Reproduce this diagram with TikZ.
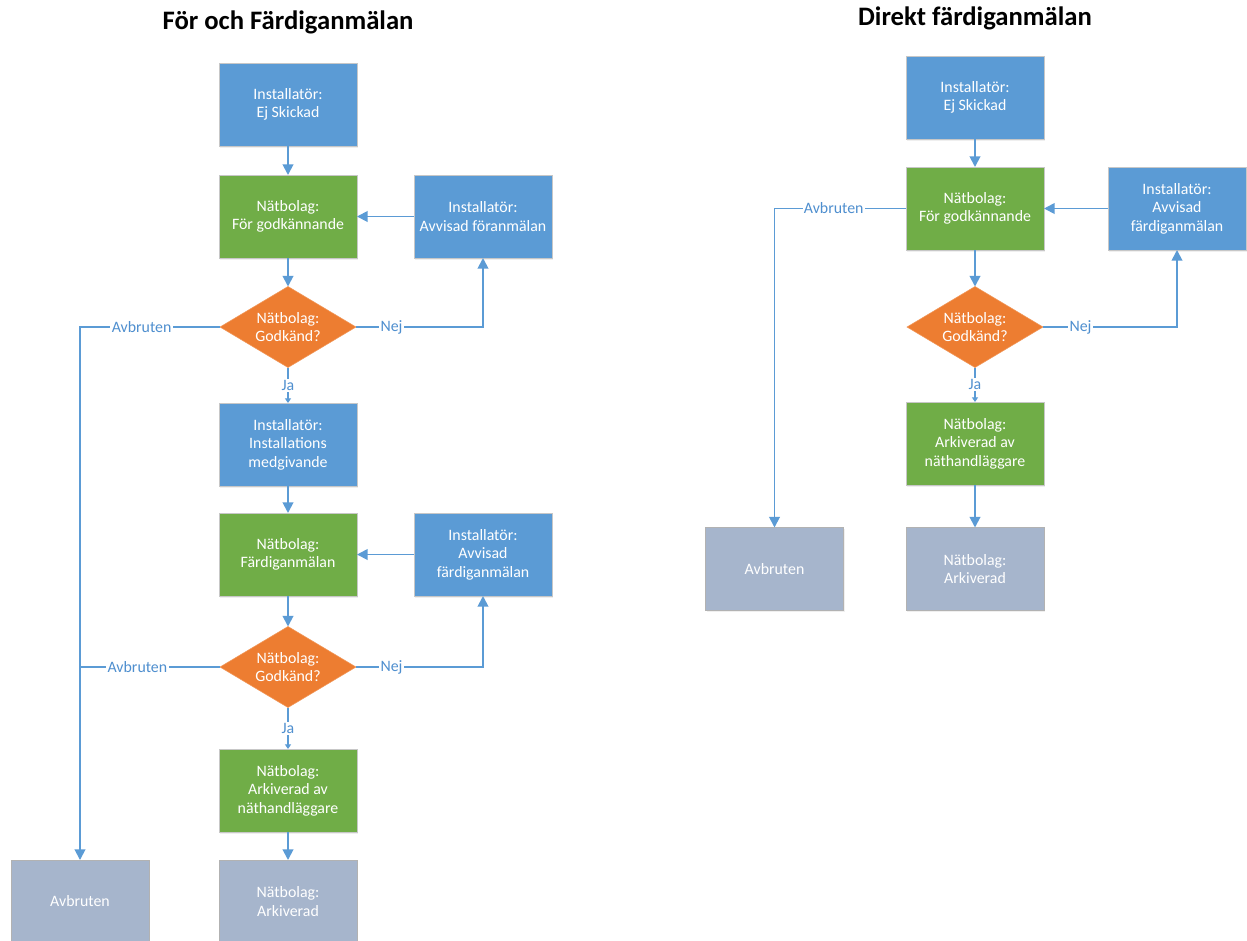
\documentclass[tikz,border=0pt]{standalone}
\usepackage{fontspec}
\setmainfont{Carlito}
\usetikzlibrary{shapes.geometric,arrows.meta,shadows}
\definecolor{cblue}{HTML}{5B9BD5}
\definecolor{cgreen}{HTML}{70AD47}
\definecolor{corange}{HTML}{ED7D31}
\definecolor{cgray}{HTML}{A6B5CC}
\definecolor{cline}{HTML}{5B9BD5}
\definecolor{clabel}{HTML}{4F8FCF}
\tikzset{
  box/.style={rectangle, draw=black!22, line width=0.6pt, minimum width=103.5pt, minimum height=62.25pt,
    inner sep=0pt, outer sep=0pt, align=center, text=white,
    font=\fontsize{11.9}{13.9}\selectfont,
    drop shadow={shadow xshift=0.8pt, shadow yshift=-1.2pt, opacity=0.12}},
  bluebox/.style={box, fill=cblue},
  greenbox/.style={box, fill=cgreen},
  graybox/.style={box, fill=cgray, draw=black!30},
  decision/.style={diamond, fill=corange, draw=corange!80!white, line width=0.4pt,
    minimum width=102pt, minimum height=60.75pt, aspect=1.68, inner sep=0pt, outer sep=0pt,
    align=center, text=white, font=\fontsize{11.9}{13.9}\selectfont},
  line/.style={draw=cline, line width=1.4pt},
  conn/.style={line, -{Triangle[width=8pt,length=8pt]}},
  smallconn/.style={line, -{Triangle[width=4.5pt,length=3.5pt]}},
  lbl/.style={fill=white, inner sep=1pt, text=clabel, font=\fontsize{11.9}{13.9}\selectfont},
  title/.style={font=\fontsize{20}{24}\selectfont\bfseries, text=black},
}
\begin{document}
\begin{tikzpicture}[x=0.75pt, y=-0.75pt]
\useasboundingbox (0,0) rectangle (1247,940);
\fill[white] (0,0) rectangle (1247,940);

% ---------- Left diagram ----------
\node[title] (lt) at (288,22) {För och Färdiganmälan};
\node[bluebox] (L1) at (288,104.5) {Installatör:\\Ej Skickad};
\node[greenbox] (L2) at (288,216.5) {Nätbolag:\\För godkännande};
\node[bluebox] (L3) at (483,216.5) {Installatör:\\Avvisad föranmälan};
\node[decision] (LD1) at (288,327) {Nätbolag:\\Godkänd?};
\node[bluebox] (L4) at (288,444.5) {Installatör:\\Installations\\medgivande};
\node[greenbox] (L5) at (288,554.5) {Nätbolag:\\Färdiganmälan};
\node[bluebox] (L6) at (483,554.5) {Installatör:\\Avvisad\\färdiganmälan};
\node[decision] (LD2) at (288,667) {Nätbolag:\\Godkänd?};
\node[greenbox] (L7) at (288,790.5) {Nätbolag:\\Arkiverad av\\näthandläggare};
\node[graybox] (L8) at (288,901.5) {Nätbolag:\\Arkiverad};
\node[graybox] (LAv) at (80,901.5) {Avbruten};

\draw[conn] (L1) -- (L2);
\draw[conn] (L3) -- (L2);
\draw[conn] (L2) -- (LD1);
\draw[conn] (LD1.east) -- node[lbl, pos=0.28] {Nej} (LD1.east -| L3) -- (L3);
\draw[smallconn] (LD1) -- node[lbl, pos=0.5] {Ja} (L4);
\draw[conn] (LD1.west) -- node[lbl, pos=0.56] {Avbruten} (LD1.west -| LAv) -- (LAv);
\draw[conn] (L4) -- (L5);
\draw[conn] (L6) -- (L5);
\draw[conn] (L5) -- (LD2);
\draw[conn] (LD2.east) -- node[lbl, pos=0.28] {Nej} (LD2.east -| L6) -- (L6);
\draw[line] (LD2.west) -- node[lbl, pos=0.59] {Avbruten} (LD2.west -| LAv);
\draw[smallconn] (LD2) -- node[lbl, pos=0.5] {Ja} (L7);
\draw[conn] (L7) -- (L8);

% ---------- Right diagram ----------
\node[title] (rt) at (975,18) {Direkt färdiganmälan};
\node[bluebox] (R1) at (975,97.5) {Installatör:\\Ej Skickad};
\node[greenbox] (R2) at (975,208.5) {Nätbolag:\\För godkännande};
\node[bluebox] (R3) at (1177,208.5) {Installatör:\\Avvisad\\färdiganmälan};
\node[decision] (RD) at (975,327) {Nätbolag:\\Godkänd?};
\node[greenbox] (R4) at (975,443.5) {Nätbolag:\\Arkiverad av\\näthandläggare};
\node[graybox] (R5) at (975,569) {Nätbolag:\\Arkiverad};
\node[graybox] (RAv) at (774.5,569) {Avbruten};

\draw[conn] (R1) -- (R2);
\draw[conn] (R3) -- (R2);
\draw[conn] (R2) -- (RD);
\draw[conn] (RD.east) -- node[lbl, pos=0.28] {Nej} (RD.east -| R3) -- (R3);
\draw[smallconn] (RD) -- node[lbl, pos=0.5] {Ja} (R4);
\draw[conn] (R2.west) -- node[lbl, pos=0.55] {Avbruten} (R2.west -| RAv) -- (RAv);
\draw[conn] (R4) -- (R5);
\end{tikzpicture}
\end{document}
